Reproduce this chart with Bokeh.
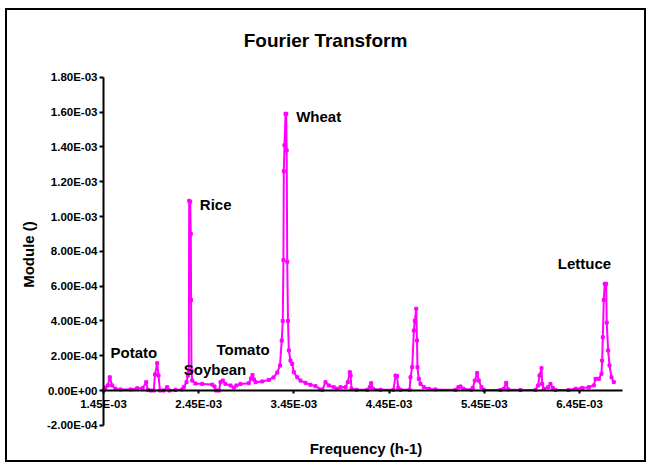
import math
from bokeh.plotting import figure
from bokeh.models import (Range1d, LinearAxis, FixedTicker, CustomJSTickFormatter,
                          Label, ColumnDataSource)
from bokeh.embed import file_html
from bokeh.resources import INLINE

# Frequency (h-1) and module values
freq = [1.453e-3, 1.471e-3, 1.495e-3, 1.516e-3, 1.541e-3, 1.576e-3, 1.629e-3, 1.734e-3,
        1.804e-3, 1.860e-3, 1.899e-3, 1.915e-3, 1.944e-3, 1.978e-3, 1.991e-3, 2.014e-3,
        2.028e-3, 2.043e-3, 2.080e-3, 2.119e-3, 2.143e-3, 2.206e-3, 2.277e-3, 2.293e-3,
        2.322e-3, 2.336e-3, 2.346e-3, 2.350e-3, 2.361e-3, 2.367e-3, 2.370e-3, 2.374e-3,
        2.382e-3, 2.416e-3, 2.486e-3, 2.592e-3, 2.616e-3, 2.632e-3, 2.663e-3, 2.679e-3,
        2.703e-3, 2.731e-3, 2.784e-3, 2.819e-3, 2.847e-3, 2.889e-3, 2.976e-3, 2.999e-3,
        3.015e-3, 3.031e-3, 3.047e-3, 3.117e-3, 3.186e-3, 3.236e-3, 3.275e-3, 3.304e-3,
        3.322e-3, 3.333e-3, 3.340e-3, 3.344e-3, 3.351e-3, 3.362e-3, 3.369e-3, 3.374e-3,
        3.380e-3, 3.388e-3, 3.397e-3, 3.414e-3, 3.432e-3, 3.449e-3, 3.485e-3, 3.519e-3,
        3.572e-3, 3.624e-3, 3.677e-3, 3.729e-3, 3.750e-3, 3.782e-3, 3.817e-3, 3.869e-3,
        3.905e-3, 3.940e-3, 3.992e-3, 4.016e-3, 4.037e-3, 4.046e-3, 4.055e-3, 4.108e-3,
        4.220e-3, 4.247e-3, 4.262e-3, 4.279e-3, 4.360e-3, 4.496e-3, 4.517e-3, 4.533e-3,
        4.546e-3, 4.570e-3, 4.665e-3, 4.675e-3, 4.693e-3, 4.710e-3, 4.720e-3, 4.735e-3,
        4.743e-3, 4.748e-3, 4.762e-3, 4.780e-3, 4.815e-3, 4.867e-3, 4.937e-3, 5.147e-3,
        5.178e-3, 5.200e-3, 5.231e-3, 5.315e-3, 5.329e-3, 5.350e-3, 5.375e-3, 5.392e-3,
        5.420e-3, 5.445e-3, 5.620e-3, 5.655e-3, 5.680e-3, 5.701e-3, 5.830e-3, 5.988e-3,
        6.016e-3, 6.030e-3, 6.051e-3, 6.058e-3, 6.075e-3, 6.121e-3, 6.145e-3, 6.169e-3,
        6.198e-3, 6.334e-3, 6.408e-3, 6.478e-3, 6.548e-3, 6.600e-3, 6.618e-3, 6.653e-3,
        6.681e-3, 6.688e-3, 6.695e-3, 6.705e-3, 6.715e-3, 6.730e-3, 6.736e-3, 6.751e-3,
        6.765e-3, 6.786e-3, 6.810e-3]
module = [0.03e-4, 0.17e-4, 0.29e-4, 0.76e-4, 0.29e-4, 0.10e-4, 0.06e-4, 0.06e-4,
          0.13e-4, 0.13e-4, 0.48e-4, 0.04e-4, 0.00e-4, 0.00e-4, 0.92e-4, 1.57e-4,
          0.86e-4, 0.00e-4, 0.00e-4, 0.19e-4, 0.00e-4, 0.03e-4, 0.06e-4, 0.19e-4,
          0.48e-4, 0.86e-4, 1.03e-4, 10.9e-4, 10.85e-4, 9.0e-4, 5.2e-4, 1.15e-4,
          0.57e-4, 0.40e-4, 0.38e-4, 0.34e-4, 0.23e-4, 0.00e-4, 0.00e-4, 0.48e-4,
          0.57e-4, 0.38e-4, 0.29e-4, 0.17e-4, 0.29e-4, 0.38e-4, 0.42e-4, 0.69e-4,
          0.89e-4, 0.63e-4, 0.48e-4, 0.52e-4, 0.61e-4, 0.75e-4, 1.03e-4, 1.44e-4,
          2.87e-4, 4.00e-4, 7.5e-4, 12.6e-4, 14.1e-4, 15.9e-4, 15.9e-4, 13.8e-4,
          7.4e-4, 4.0e-4, 2.3e-4, 1.72e-4, 1.53e-4, 1.05e-4, 0.76e-4, 0.57e-4,
          0.44e-4, 0.33e-4, 0.25e-4, 0.06e-4, 0.03e-4, 0.48e-4, 0.29e-4, 0.19e-4,
          0.10e-4, 0.19e-4, 0.19e-4, 0.48e-4, 1.05e-4, 0.86e-4, 0.10e-4, 0.04e-4,
          0.04e-4, 0.19e-4, 0.42e-4, 0.10e-4, 0.04e-4, 0.04e-4, 0.86e-4, 0.83e-4,
          0.15e-4, 0.04e-4, 0.04e-4, 0.76e-4, 1.34e-4, 3.45e-4, 4.00e-4, 4.70e-4,
          2.87e-4, 1.34e-4, 0.67e-4, 0.38e-4, 0.19e-4, 0.10e-4, 0.06e-4, 0.04e-4,
          0.19e-4, 0.23e-4, 0.10e-4, 0.04e-4, 0.15e-4, 0.57e-4, 1.00e-4, 0.57e-4,
          0.19e-4, 0.04e-4, 0.03e-4, 0.10e-4, 0.44e-4, 0.06e-4, 0.03e-4, 0.04e-4,
          0.29e-4, 0.86e-4, 1.28e-4, 0.38e-4, 0.10e-4, 0.19e-4, 0.38e-4, 0.15e-4,
          0.03e-4, 0.03e-4, 0.10e-4, 0.15e-4, 0.19e-4, 0.29e-4, 0.67e-4, 0.67e-4,
          0.96e-4, 1.72e-4, 3.06e-4, 5.2e-4, 6.13e-4, 6.13e-4, 3.9e-4, 2.3e-4,
          1.44e-4, 0.76e-4, 0.48e-4]

# Peak annotations: text, frequency, module
label_text = ["Potato", "Soybean", "Tomato", "Rice", "Wheat", "Lettuce"]
label_freq = [1.524e-3, 2.293e-3, 2.637e-3, 2.462e-3, 3.474e-3, 6.222e-3]
label_mod = [2.20e-4, 1.19e-4, 2.34e-4, 1.069e-3, 1.576e-3, 7.28e-4]

x_ticks = [1.45e-3, 2.45e-3, 3.45e-3, 4.45e-3, 5.45e-3, 6.45e-3]
y_ticks = [-2.0e-4, 0.0, 2.0e-4, 4.0e-4, 6.0e-4, 8.0e-4, 1.0e-3, 1.2e-3, 1.4e-3, 1.6e-3, 1.8e-3]
x_bounds = (1.45e-3, 6.90e-3)
y_bounds = (-2.0e-4, 1.8e-3)

title_text = "Fourier Transform"
x_title = "Frequency (h-1)"
y_title = "Module ()"

FONT = "Liberation Sans"
MAGENTA = "#FF00FF"

# ---- layout: the plotting frame fills the whole canvas ----
W, H = 641, 454
PX_PER_X = 95.2 / 1e-3      # pixels per unit of frequency
PX_PER_Y = 174.0 / 1e-3     # pixels per unit of module
AXIS_X_PX = 96              # canvas x of the y axis (f = 1.45e-3)
ZERO_Y_PX = 380             # canvas y (from top) of module = 0
x_start = x_bounds[0] - AXIS_X_PX / PX_PER_X
x_end = x_start + W / PX_PER_X
y_end = ZERO_Y_PX / PX_PER_Y
y_start = y_end - H / PX_PER_Y

fmt = CustomJSTickFormatter(code="""
    const s = tick.toExponential(2).toUpperCase();
    const parts = s.split("E");
    let e = parseInt(parts[1]);
    const sign = e < 0 ? "-" : "+";
    e = Math.abs(e);
    return parts[0] + "E" + sign + (e < 10 ? "0" + e : "" + e);
""")

p = figure(width=W, height=H, output_backend="svg", toolbar_location=None,
           x_range=Range1d(x_start, x_end), y_range=Range1d(y_start, y_end),
           x_axis_location=None, y_axis_location=None,
           min_border_left=0, min_border_right=0, min_border_top=0, min_border_bottom=0)
p.styles = {"border": "2px solid black", "margin-left": "5px", "margin-top": "8px"}
p.outline_line_color = None
p.xgrid.visible = False
p.ygrid.visible = False
p.background_fill_color = "white"
p.border_fill_color = "white"


def style_axis(ax, tick_out):
    ax.minor_tick_line_color = None
    ax.major_tick_in = 0
    ax.major_tick_out = tick_out
    ax.major_tick_line_width = 2
    ax.major_tick_line_color = "black"
    ax.axis_line_width = 2
    ax.axis_line_color = "black"
    ax.major_label_text_font = FONT
    ax.major_label_text_font_style = "bold"
    ax.major_label_text_font_size = "11.5px"
    ax.major_label_text_color = "black"


ya = LinearAxis(fixed_location=x_bounds[0], bounds=y_bounds,
                ticker=FixedTicker(ticks=y_ticks), formatter=fmt)
style_axis(ya, 4)
ya.major_label_standoff = 2
p.add_layout(ya, "left")

xa = LinearAxis(fixed_location=0, bounds=x_bounds,
                ticker=FixedTicker(ticks=x_ticks), formatter=fmt)
style_axis(xa, 3)
xa.major_label_standoff = 4
p.add_layout(xa, "below")

src = ColumnDataSource(data=dict(x=freq, y=module))
p.line("x", "y", source=src, line_color=MAGENTA, line_width=2)
p.scatter("x", "y", source=src, marker="square", size=3, color=MAGENTA)

for t, fx, my in zip(label_text, label_freq, label_mod):
    p.add_layout(Label(x=fx, y=my, text=t, text_align="left", text_baseline="middle",
                       text_font=FONT, text_font_style="bold", text_font_size="15px",
                       text_color="black"))

# chart title, axis titles (positions in data space, frame spans the canvas)
p.add_layout(Label(x=3.782e-3, y=2.011e-3, text=title_text, text_align="center",
                   text_baseline="middle", text_font=FONT, text_font_style="bold",
                   text_font_size="19px", text_color="black"))
p.add_layout(Label(x=4.207e-3, y=-3.33e-4, text=x_title, text_align="center",
                   text_baseline="middle", text_font=FONT, text_font_style="bold",
                   text_font_size="15px", text_color="black"))
p.add_layout(Label(x=0.6622e-3, y=0.7816e-3, text=y_title, angle=math.pi / 2,
                   text_align="center", text_baseline="middle", text_font=FONT,
                   text_font_style="bold", text_font_size="15px", text_color="black"))

open("out.html", "w").write(file_html(p, INLINE))
